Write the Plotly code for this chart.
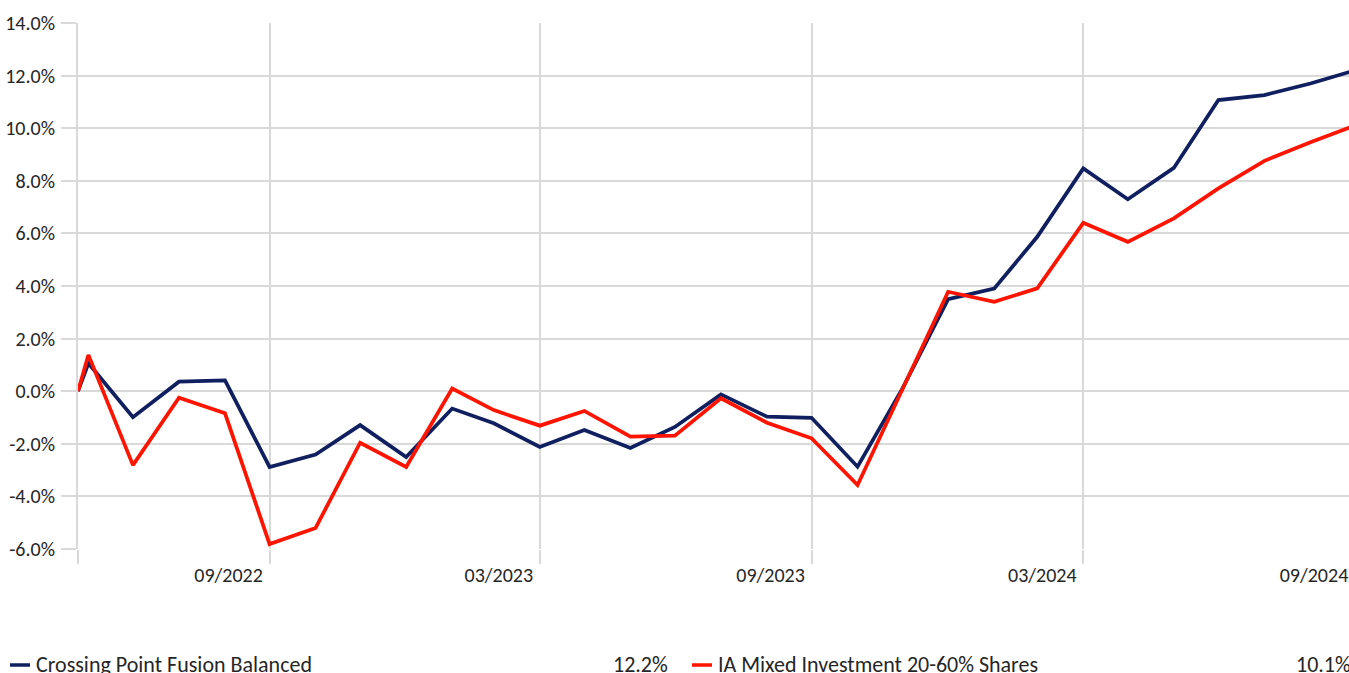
import plotly.graph_objects as go

# ---- data ----
dates = ["2022-05-24", "2022-05-31", "2022-06-30", "2022-07-31", "2022-08-31",
         "2022-09-30", "2022-10-31", "2022-11-30", "2022-12-31", "2023-01-31",
         "2023-02-28", "2023-03-31", "2023-04-30", "2023-05-31", "2023-06-30",
         "2023-07-31", "2023-08-31", "2023-09-30", "2023-10-31", "2023-11-30",
         "2023-12-31", "2024-01-31", "2024-02-29", "2024-03-31", "2024-04-30",
         "2024-05-31", "2024-06-30", "2024-07-31", "2024-08-31", "2024-09-30"]

fund_name = "Crossing Point Fusion Balanced"
fund_values = [0.00, 1.06, -0.99, 0.36, 0.41, -2.88, -2.41, -1.29, -2.50, -0.66,
               -1.22, -2.12, -1.48, -2.16, -1.36, -0.12, -0.97, -1.01, -2.87, 0.08,
               3.50, 3.90, 5.87, 8.47, 7.30, 8.49, 11.07, 11.26, 11.70, 12.20]

sector_name = "IA Mixed Investment 20-60% Shares"
sector_values = [0.00, 1.38, -2.81, -0.25, -0.84, -5.81, -5.20, -1.96, -2.88, 0.10,
                 -0.72, -1.31, -0.75, -1.73, -1.69, -0.27, -1.20, -1.79, -3.57, 0.02,
                 3.78, 3.40, 3.91, 6.40, 5.68, 6.57, 7.71, 8.76, 9.47, 10.10]

fund_total = "12.2%"
sector_total = "10.1%"

x_tick_vals = ["2022-05-24", "2022-09-30", "2023-03-31", "2023-09-30", "2024-03-31", "2024-09-30"]
x_tick_text = ["", "09/2022", "03/2023", "09/2023", "03/2024", "09/2024"]
y_tick_vals = [-6, -4, -2, 0, 2, 4, 6, 8, 10, 12, 14]
y_tick_text = ["-6.0%", "-4.0%", "-2.0%", "0.0%", "2.0%", "4.0%", "6.0%",
               "8.0%", "10.0%", "12.0%", "14.0%"]

# ---- styles ----
NAVY = "#0f1f5f"
RED = "#ff1400"
GRID = "#d9d9d9"
TEXT = "#262626"
FONT = "Carlito, Calibri, Lato, sans-serif"
W, H = 1355, 673
ML, MT, MB = 78, 23, 124

fig = go.Figure()
fig.add_trace(go.Scatter(x=dates, y=fund_values, mode="lines", name=fund_name,
                         line=dict(color=NAVY, width=3.75)))
fig.add_trace(go.Scatter(x=dates, y=sector_values, mode="lines", name=sector_name,
                         line=dict(color=RED, width=3.75)))

fig.update_layout(
    width=W, height=H,
    margin=dict(l=ML, r=0, t=MT, b=MB),
    paper_bgcolor="white", plot_bgcolor="white",
    showlegend=False,
    font=dict(family=FONT, size=20, color=TEXT),
)

fig.update_xaxes(
    type="date",
    range=["2022-05-24", "2024-09-30"],
    tickmode="array", tickvals=x_tick_vals, ticktext=x_tick_text,
    showgrid=True, gridcolor=GRID, gridwidth=2,
    ticks="outside", ticklen=14, tickwidth=2, tickcolor=GRID,
    ticklabelshift=-41, ticklabelstandoff=-6,
    showline=False, zeroline=False,
    tickfont=dict(family=FONT, size=20, color=TEXT),
)
fig.update_yaxes(
    range=[-6, 14],
    tickmode="array", tickvals=y_tick_vals, ticktext=y_tick_text,
    showgrid=True, gridcolor=GRID, gridwidth=2,
    ticks="outside", ticklen=15, tickwidth=2, tickcolor=GRID,
    ticklabelstandoff=2,
    showline=True, linecolor=GRID, linewidth=2,
    zeroline=False,
    tickfont=dict(family=FONT, size=20, color=TEXT),
)

# ---- custom legend (bottom) ----
plot_w = W - ML
plot_h = H - MT - MB
def px_x(p):
    return (p - ML) / plot_w
def px_y(p):
    return (H - MB - p) / plot_h

legend_y = 665
entries = [(fund_name, fund_total, NAVY, 10, 670),
           (sector_name, sector_total, RED, 692, 1353)]
for name, total, color, x0, xr in entries:
    fig.add_shape(type="line", xref="paper", yref="paper",
                  x0=px_x(x0), x1=px_x(x0 + 20), y0=px_y(legend_y), y1=px_y(legend_y),
                  line=dict(color=color, width=3.5))
    fig.add_annotation(xref="paper", yref="paper", x=px_x(x0 + 24), y=px_y(legend_y),
                       text=name, showarrow=False, xanchor="left", yanchor="middle",
                       font=dict(family=FONT, size=22, color=TEXT))
    fig.add_annotation(xref="paper", yref="paper", x=px_x(xr), y=px_y(legend_y),
                       text=total, showarrow=False, xanchor="right", yanchor="middle",
                       font=dict(family=FONT, size=22, color=TEXT))

fig.write_html("out.html", config={"displayModeBar": False},
               post_script="document.body.style.margin='0';document.body.style.overflow='hidden';")
